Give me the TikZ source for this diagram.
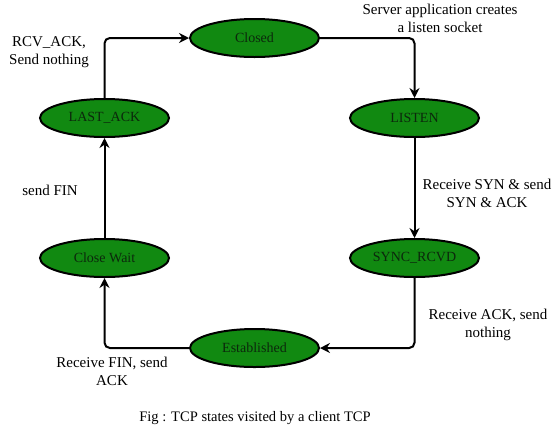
\documentclass[tikz,border=0pt]{standalone}
\usepackage{fontspec}
\setmainfont{Liberation Serif}
\usetikzlibrary{shapes.geometric,arrows.meta}
\tikzset{every picture/.style={line width=0.75pt}}
\definecolor{stategreen}{RGB}{17,137,17}
\definecolor{statetext}{RGB}{12,40,12}

\begin{document}
\begin{tikzpicture}[x=0.75pt,y=0.75pt,yscale=-1,xscale=1,
        state/.style={ellipse,draw,line width=1.5pt,fill=stategreen,minimum width=96.75pt,minimum height=28.5pt,inner sep=0pt,text=statetext,font=\fontsize{10.5}{12}\selectfont},
        trans/.style={line width=1.5pt,rounded corners=4pt,-{Stealth[length=7.5pt,width=7.5pt,inset=2.5pt]}},
        lbl/.style={inner sep=0.75pt,align=center,font=\fontsize{11.25}{13.5}\selectfont}]
        \path (0,0) rectangle (559,429); %set diagram size 559 x 429

        %Shape: Ellipse [id:closed]
        \node [state] (closed) at (254.5,38) {Closed};
        %Shape: Ellipse [id:listen]
        \node [state] (listen) at (414.5,118) {LISTEN};
        %Shape: Ellipse [id:syncrcvd]
        \node [state] (syncrcvd) at (414.5,258) {SYNC\_RCVD};
        %Shape: Ellipse [id:established]
        \node [state] (established) at (254.5,348) {Established};
        %Shape: Ellipse [id:closewait]
        \node [state] (closewait) at (104.5,258) {Close Wait};
        %Shape: Ellipse [id:lastack]
        \node [state] (lastack) at (104.5,118) {LAST\_ACK};

        %Connectors
        \draw [trans] (closed.east) -| (listen.north);
        \draw [trans] (listen.south) -- (syncrcvd.north);
        \draw [trans] (syncrcvd.south) |- (established.east);
        \draw [trans] (established.west) -| (closewait.south);
        \draw [trans] (closewait.north) -- (lastack.south);
        \draw [trans] (lastack.north) |- (closed.west);

        % Text Node
        \node [lbl] (lblserver) at (440,18) {Server application creates\\a listen socket};
        % Text Node
        \node [lbl] (lblsyn) at (487,193) {Receive SYN \& send\\SYN \& ACK};
        % Text Node
        \node [lbl] (lblack) at (488,325) {Receive ACK, send\\nothing};
        % Text Node
        \node [lbl] (lblfin) at (112,371) {Receive FIN, send\\ACK};
        % Text Node
        \node [lbl] (lblsendfin) at (50,190) {send FIN};
        % Text Node
        \node [lbl] (lblrcv) at (49,52) {RCV\_ACK,\\Send nothing};
        % Text Node
        \node [lbl,font=\fontsize{10.9}{13}\selectfont] (caption) at (255,418) {Fig : TCP states visited by a client TCP};

    \end{tikzpicture}
\end{document}
